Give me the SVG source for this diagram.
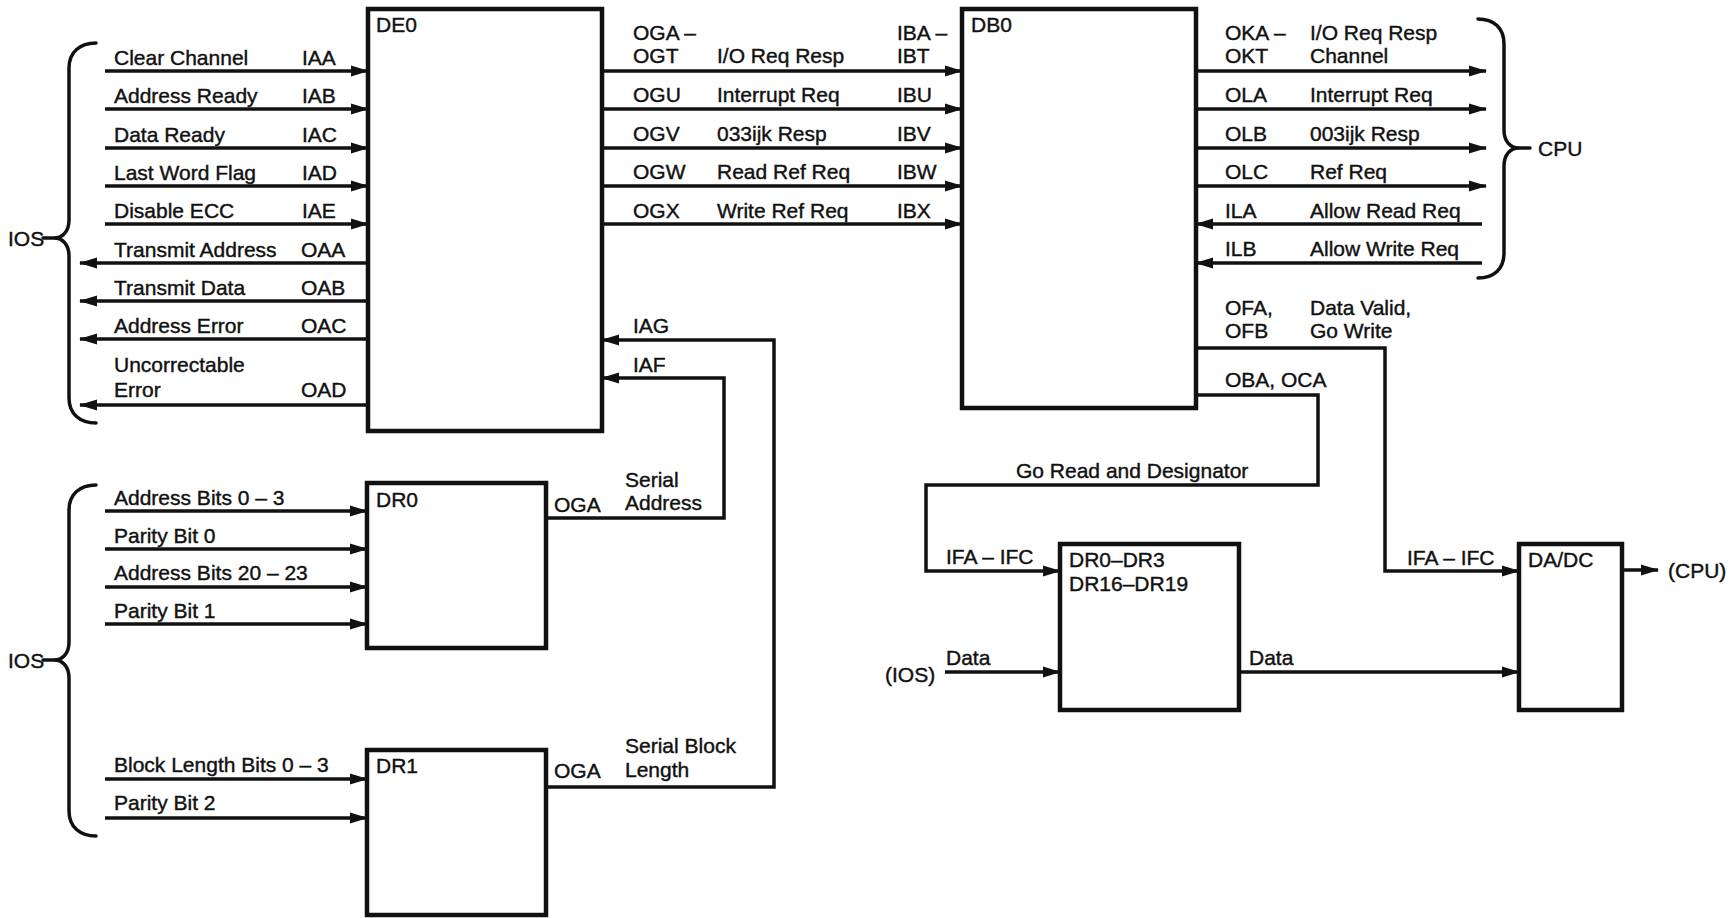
<svg xmlns="http://www.w3.org/2000/svg" width="1732" height="918" viewBox="0 0 1732 918">
<style>
text{font-family:"Liberation Sans",Arial,sans-serif;font-size:21px;fill:#111;stroke:#111;stroke-width:0.4}
.box{fill:#fff;stroke:#111;stroke-width:4.5}
.w{fill:none;stroke:#111;stroke-width:3.5}
.a{marker-end:url(#ah)}
.br{fill:none;stroke:#111;stroke-width:3.5;stroke-linecap:round}
</style>
<defs>
<marker id="ah" markerUnits="userSpaceOnUse" markerWidth="18" markerHeight="12" refX="17" refY="6" orient="auto">
<path d="M0,0.5 L18,6 L0,11.5 Z" fill="#111"/>
</marker>
</defs>
<rect width="1732" height="918" fill="#fff"/>

<g id="connectors">
<path class="w a" d="M105,71 H368"/>
<path class="w a" d="M105,109 H368"/>
<path class="w a" d="M105,148 H368"/>
<path class="w a" d="M105,186 H368"/>
<path class="w a" d="M105,224 H368"/>
<path class="w a" d="M368,263 H80"/>
<path class="w a" d="M368,301 H80"/>
<path class="w a" d="M368,339 H80"/>
<path class="w a" d="M368,405 H80"/>
<path class="w a" d="M602,71 H962"/>
<path class="w a" d="M602,109 H962"/>
<path class="w a" d="M602,148 H962"/>
<path class="w a" d="M602,186 H962"/>
<path class="w a" d="M602,224 H962"/>
<path class="w a" d="M546,787 H774 V340 H602"/>
<path class="w a" d="M546,518 H724 V378 H602"/>
<path class="w a" d="M1196,71 H1486"/>
<path class="w a" d="M1196,109 H1486"/>
<path class="w a" d="M1196,148 H1486"/>
<path class="w a" d="M1196,186 H1486"/>
<path class="w a" d="M1482,224 H1196"/>
<path class="w a" d="M1482,263 H1196"/>
<path class="w a" d="M1196,348 H1385 V571 H1519"/>
<path class="w a" d="M1196,395 H1318 V485 H926 V571 H1060"/>
<path class="w a" d="M945,672 H1060"/>
<path class="w a" d="M1239,672 H1519"/>
<path class="w a" d="M1622,570 H1658"/>
<path class="w a" d="M105,511 H367"/>
<path class="w a" d="M105,549 H367"/>
<path class="w a" d="M105,587 H367"/>
<path class="w a" d="M105,624 H367"/>
<path class="w a" d="M105,779 H367"/>
<path class="w a" d="M105,818 H367"/>
</g>

<g id="brace-ios-top">
<path class="br" d="M96,43 C80,43 69,52 69,68 L69,220 C69,231 63,238 54,238 C63,238 69,245 69,256 L69,398 C69,414 80,423 96,423"/>
<path class="br" d="M43,238 H54"/>
<text x="8" y="246">IOS</text>
</g>
<g id="brace-ios-bottom">
<path class="br" d="M96,485 C80,485 69,494 69,510 L69,642 C69,653 63,660 54,660 C63,660 69,667 69,678 L69,811 C69,827 80,836 96,836"/>
<path class="br" d="M43,660 H54"/>
<text x="8" y="668">IOS</text>
</g>
<g id="brace-cpu">
<path class="br" d="M1478,19 C1494,19 1504,28 1504,44 L1504,130 C1504,141 1510,148 1519,148 C1510,148 1504,155 1504,166 L1504,253 C1504,269 1494,278 1478,278"/>
<path class="br" d="M1519,148 H1530"/>
<text x="1538" y="156">CPU</text>
</g>

<g id="DE0">
<rect class="box" x="368" y="9" width="234" height="422"/>
<text x="376" y="32">DE0</text>
</g>
<g id="DB0">
<rect class="box" x="962" y="9" width="234" height="399"/>
<text x="971" y="32">DB0</text>
</g>
<g id="DR0">
<rect class="box" x="367" y="483" width="179" height="165"/>
<text x="376" y="507">DR0</text>
</g>
<g id="DR1">
<rect class="box" x="367" y="750" width="179" height="165"/>
<text x="376" y="773">DR1</text>
</g>
<g id="DR0-DR3">
<rect class="box" x="1060" y="544" width="179" height="166"/>
<text x="1069" y="567">DR0–DR3</text>
<text x="1069" y="591">DR16–DR19</text>
</g>
<g id="DADC">
<rect class="box" x="1519" y="544" width="103" height="166"/>
<text x="1528" y="567">DA/DC</text>
</g>

<g id="labels">
<text x="114" y="65">Clear Channel</text><text x="302" y="65">IAA</text>
<text x="114" y="103">Address Ready</text><text x="302" y="103">IAB</text>
<text x="114" y="142">Data Ready</text><text x="302" y="142">IAC</text>
<text x="114" y="180">Last Word Flag</text><text x="302" y="180">IAD</text>
<text x="114" y="218">Disable ECC</text><text x="302" y="218">IAE</text>
<text x="114" y="257">Transmit Address</text><text x="301" y="257">OAA</text>
<text x="114" y="295">Transmit Data</text><text x="301" y="295">OAB</text>
<text x="114" y="333">Address Error</text><text x="301" y="333">OAC</text>
<text x="114" y="372">Uncorrectable</text>
<text x="114" y="397">Error</text><text x="301" y="397">OAD</text>

<text x="633" y="40">OGA –</text><text x="633" y="63">OGT</text><text x="717" y="63">I/O Req Resp</text><text x="897" y="40">IBA –</text><text x="897" y="63">IBT</text>
<text x="633" y="102">OGU</text><text x="717" y="102">Interrupt Req</text><text x="897" y="102">IBU</text>
<text x="633" y="141">OGV</text><text x="717" y="141">033ijk Resp</text><text x="897" y="141">IBV</text>
<text x="633" y="179">OGW</text><text x="717" y="179">Read Ref Req</text><text x="897" y="179">IBW</text>
<text x="633" y="218">OGX</text><text x="717" y="218">Write Ref Req</text><text x="897" y="218">IBX</text>
<text x="633" y="333">IAG</text>
<text x="633" y="372">IAF</text>

<text x="1225" y="40">OKA –</text><text x="1225" y="63">OKT</text><text x="1310" y="40">I/O Req Resp</text><text x="1310" y="63">Channel</text>
<text x="1225" y="102">OLA</text><text x="1310" y="102">Interrupt Req</text>
<text x="1225" y="141">OLB</text><text x="1310" y="141">003ijk Resp</text>
<text x="1225" y="179">OLC</text><text x="1310" y="179">Ref Req</text>
<text x="1225" y="218">ILA</text><text x="1310" y="218">Allow Read Req</text>
<text x="1225" y="256">ILB</text><text x="1310" y="256">Allow Write Req</text>
<text x="1225" y="315">OFA,</text><text x="1225" y="338">OFB</text><text x="1310" y="315">Data Valid,</text><text x="1310" y="338">Go Write</text>
<text x="1225" y="387">OBA, OCA</text>
<text x="1016" y="478">Go Read and Designator</text>
<text x="946" y="564">IFA – IFC</text>
<text x="1407" y="565">IFA – IFC</text>
<text x="885" y="682">(IOS)</text>
<text x="946" y="665">Data</text>
<text x="1249" y="665">Data</text>
<text x="1668" y="578">(CPU)</text>

<text x="625" y="487">Serial</text><text x="625" y="510">Address</text><text x="554" y="512">OGA</text>
<text x="625" y="753">Serial Block</text><text x="625" y="777">Length</text><text x="554" y="778">OGA</text>

<text x="114" y="505">Address Bits 0 – 3</text>
<text x="114" y="543">Parity Bit 0</text>
<text x="114" y="580">Address Bits 20 – 23</text>
<text x="114" y="618">Parity Bit 1</text>
<text x="114" y="772">Block Length Bits 0 – 3</text>
<text x="114" y="810">Parity Bit 2</text>
</g>
</svg>
